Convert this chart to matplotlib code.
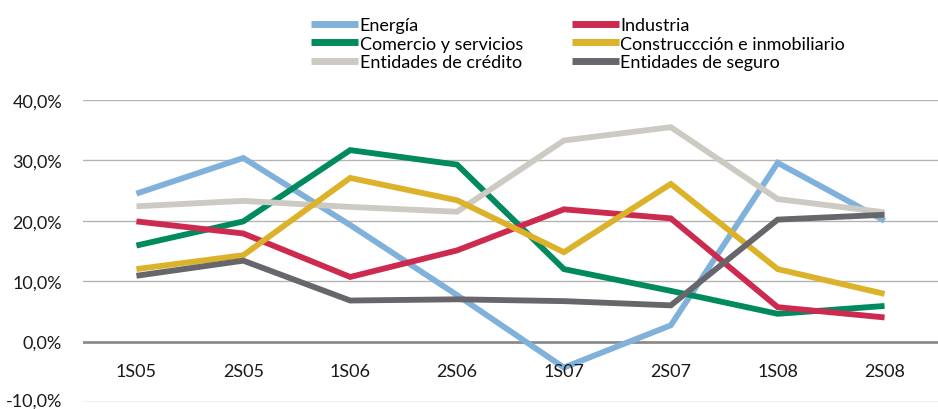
import matplotlib
matplotlib.use("Agg")
import matplotlib.pyplot as plt
import matplotlib.transforms as mtransforms
from matplotlib.ticker import FuncFormatter

plt.rcParams['font.family'] = ['Lato', 'DejaVu Sans']

# Data (percent)
periods = ['1S05', '2S05', '1S06', '2S06', '1S07', '2S07', '1S08', '2S08']
energia = [24.5, 30.4, 19.3, 7.7, -4.3, 2.7, 29.6, 20.0]
industria = [19.9, 17.9, 10.7, 15.1, 21.9, 20.4, 5.7, 4.0]
comercio = [15.9, 19.9, 31.7, 29.3, 12.0, 8.4, 4.6, 5.9]
construccion = [12.0, 14.3, 27.1, 23.4, 14.8, 26.1, 12.0, 7.9]
credito = [22.4, 23.3, 22.3, 21.5, 33.3, 35.5, 23.6, 21.4]
seguro = [10.9, 13.4, 6.8, 7.0, 6.7, 6.0, 20.2, 21.0]

series = [
    ('Energía', energia, '#80b1da'),
    ('Comercio y servicios', comercio, '#008a5e'),
    ('Entidades de crédito', credito, '#cdcac3'),
    ('Industria', industria, '#cd2a50'),
    ('Construccción e inmobiliario', construccion, '#dbb22a'),
    ('Entidades de seguro', seguro, '#67676b'),
]

fig = plt.figure(figsize=(9.38, 4.10), dpi=100)
ax = fig.add_axes([83 / 938, 7 / 410, 855 / 938, 302 / 410])

x = list(range(len(periods)))
handles = []
for name, vals, col in series:
    h, = ax.plot(x, vals, color=col, lw=4.2, solid_joinstyle='miter',
                 solid_capstyle='butt', label=name, zorder=3)
    handles.append(h)

ax.set_xlim(-0.5, len(periods) - 0.5)
ax.set_ylim(-10, 40)
ax.set_yticks([-10, 0, 10, 20, 30, 40])
ax.yaxis.set_major_formatter(FuncFormatter(lambda v, p: f'{v:.1f}%'.replace('.', ',')))
for yv in [-10, 10, 20, 30, 40]:
    ax.axhline(yv, color='#b4b4b4', lw=1.0, zorder=1)
ax.axhline(0, color='#8c8c8c', lw=2.0, zorder=2)

ax.set_xticks([])
for xi, lab in zip(x, periods):
    ax.text(xi, -4.8, lab, ha='center', va='center', fontsize=13, color='#1a1a1a')

for s in ax.spines.values():
    s.set_visible(False)
ax.tick_params(axis='y', length=0, pad=15, labelsize=13, labelcolor='#1a1a1a')
fig.canvas.draw()
ylabels = ax.get_yticklabels()
for t in ylabels:
    t.set_verticalalignment('center_baseline')
# lowest label sits on the figure's edge: nudge it up a little
ylabels[0].set_transform(ylabels[0].get_transform() +
                         mtransforms.ScaledTranslation(0, 3 / 100, fig.dpi_scale_trans))

leg = fig.legend(handles=handles, ncol=2, loc='upper left',
                 bbox_to_anchor=(311 / 938, 1 - 18 / 410), frameon=False,
                 fontsize=13, handlelength=2.6, handletextpad=0.1,
                 labelspacing=0.15, columnspacing=2.7, borderpad=0,
                 borderaxespad=0)
for line in leg.get_lines():
    line.set_linewidth(5)

fig.savefig('out.png', dpi=100)
